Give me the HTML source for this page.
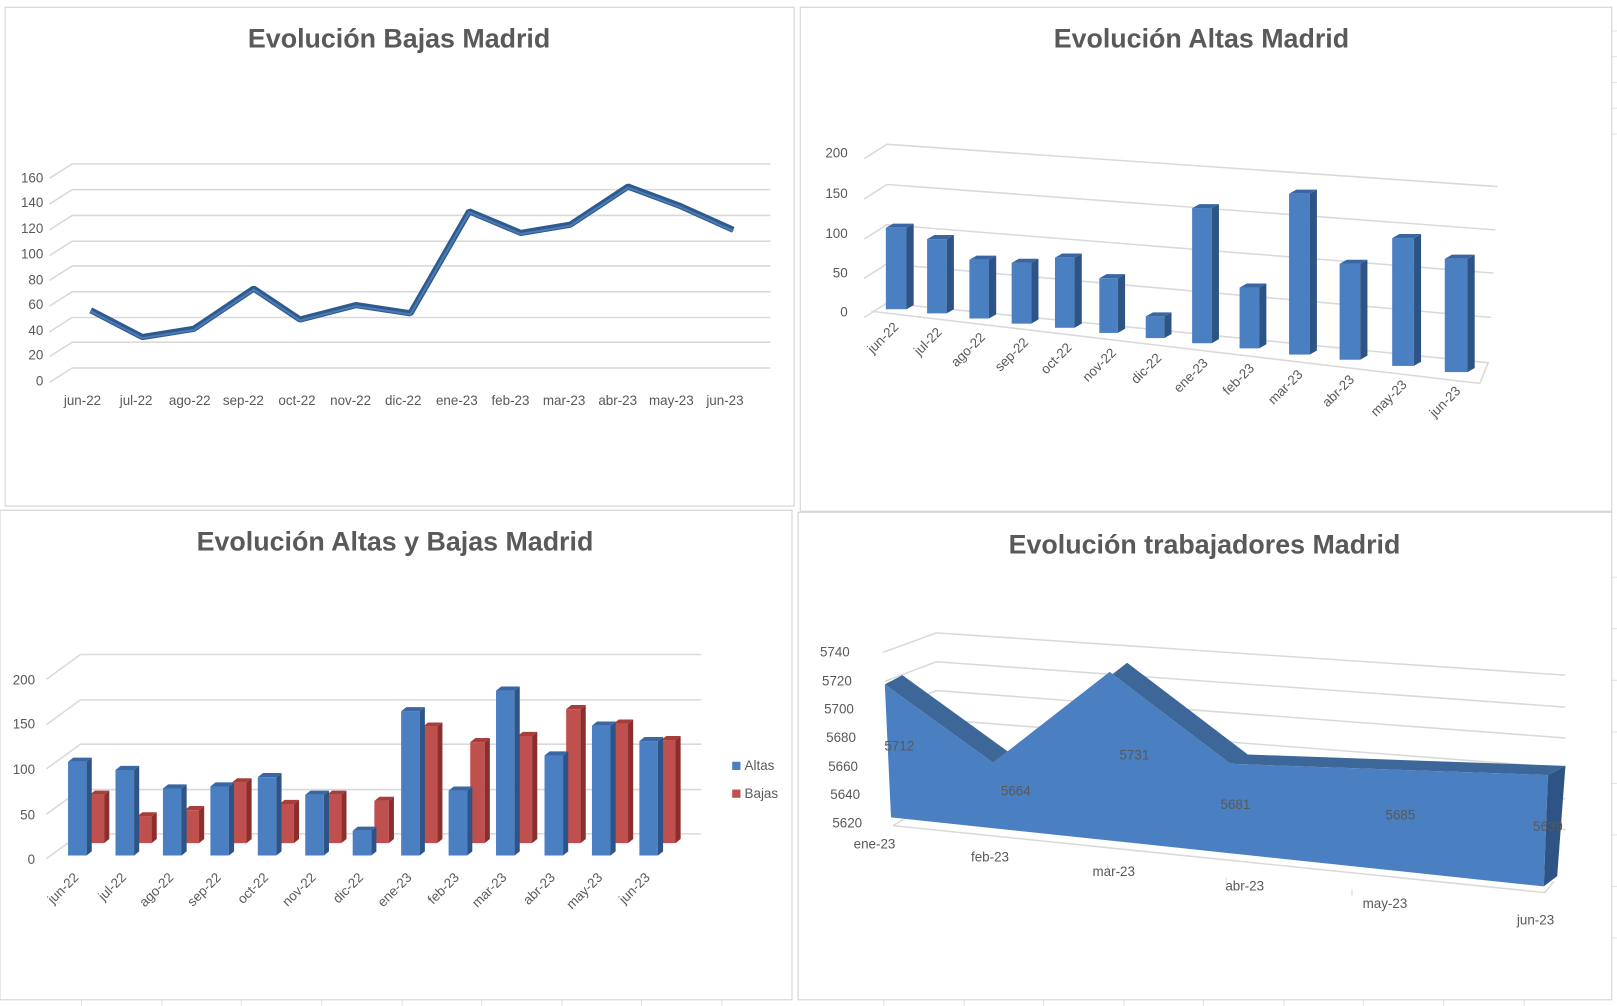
<!DOCTYPE html>
<html><head><meta charset="utf-8"><style>
html,body{margin:0;padding:0;background:#fff;}
svg{display:block;}
text{font-family:"Liberation Sans",sans-serif;fill:#595959;}
.t{font-size:26px;font-weight:bold;text-anchor:middle;}
.a{font-size:13px;}
.g{stroke:#d9d9d9;stroke-width:1.5;fill:none;}
</style></head><body>
<svg width="1617" height="1006" viewBox="0 0 1568 976" preserveAspectRatio="none" xmlns="http://www.w3.org/2000/svg">
<g stroke="#e3e3e3" stroke-width="1">
<line x1="79" y1="970" x2="79" y2="976"/><line x1="157" y1="970" x2="157" y2="976"/><line x1="234" y1="970" x2="234" y2="976"/><line x1="312" y1="970" x2="312" y2="976"/><line x1="390" y1="970" x2="390" y2="976"/><line x1="467" y1="970" x2="467" y2="976"/><line x1="545" y1="970" x2="545" y2="976"/><line x1="622" y1="970" x2="622" y2="976"/><line x1="700" y1="970" x2="700" y2="976"/><line x1="857" y1="970" x2="857" y2="976"/><line x1="935" y1="970" x2="935" y2="976"/><line x1="1012" y1="970" x2="1012" y2="976"/><line x1="1090" y1="970" x2="1090" y2="976"/><line x1="1167" y1="970" x2="1167" y2="976"/><line x1="1245" y1="970" x2="1245" y2="976"/><line x1="1322" y1="970" x2="1322" y2="976"/><line x1="1400" y1="970" x2="1400" y2="976"/><line x1="1478" y1="970" x2="1478" y2="976"/>
<line x1="1563" y1="30" x2="1568" y2="30"/><line x1="1563" y1="55" x2="1568" y2="55"/><line x1="1563" y1="80" x2="1568" y2="80"/><line x1="1563" y1="105" x2="1568" y2="105"/><line x1="1563" y1="130" x2="1568" y2="130"/><line x1="1563" y1="560" x2="1568" y2="560"/><line x1="1563" y1="610" x2="1568" y2="610"/><line x1="1563" y1="660" x2="1568" y2="660"/><line x1="1563" y1="710" x2="1568" y2="710"/><line x1="1563" y1="760" x2="1568" y2="760"/><line x1="1563" y1="810" x2="1568" y2="810"/><line x1="1563" y1="860" x2="1568" y2="860"/><line x1="1563" y1="910" x2="1568" y2="910"/>
</g>
<g fill="#fff" stroke="#d0d0d0" stroke-width="1">
<rect x="5" y="7" width="765" height="484"/>
<rect x="776" y="7" width="787" height="489"/>
<rect x="0" y="495" width="768" height="475"/>
<rect x="774" y="497" width="789" height="473"/>
</g>

<!-- Chart 1 -->
<text class="t" x="387" y="46">Evolución Bajas Madrid</text>
<g class="g">
<polyline points="48,371 70,357 747,357"/><polyline points="48,346 70,332 747,332"/><polyline points="48,322 70,308 747,308"/><polyline points="48,297 70,283 747,283"/><polyline points="48,272 70,258 747,258"/><polyline points="48,248 70,234 747,234"/><polyline points="48,223 70,209 747,209"/><polyline points="48,198 70,184 747,184"/><polyline points="48,173 70,159 747,159"/>
</g>
<g class="a" text-anchor="end">
<text x="42" y="374">0</text><text x="42" y="349">20</text><text x="42" y="325">40</text><text x="42" y="300">60</text><text x="42" y="276">80</text><text x="42" y="251">100</text><text x="42" y="226">120</text><text x="42" y="201">140</text><text x="42" y="177">160</text>
</g>
<g class="a" text-anchor="middle">
<text x="80" y="393">jun-22</text><text x="132" y="393">jul-22</text><text x="184" y="393">ago-22</text><text x="236" y="393">sep-22</text><text x="288" y="393">oct-22</text><text x="340" y="393">nov-22</text><text x="391" y="393">dic-22</text><text x="443" y="393">ene-23</text><text x="495" y="393">feb-23</text><text x="547" y="393">mar-23</text><text x="599" y="393">abr-23</text><text x="651" y="393">may-23</text><text x="703" y="393">jun-23</text>
</g>
<polyline points="88,301 138,327 188,319 246,280 291,310 345,296 398,304 455,205 505,226 553,218 609,181 660,200 711,223" fill="none" stroke="#2f5a8c" stroke-width="6" stroke-linejoin="bevel"/>
<polyline points="88,302 138,328 188,320 246,281 291,311 345,297 398,305 455,206 505,227 553,219 609,182 660,201 711,224" fill="none" stroke="#4a7ab8" stroke-width="2"/>

<!-- Chart 2 -->
<text class="t" x="1165" y="46">Evolución  Altas Madrid</text>
<g class="g">
<polyline points="838,154 860,140 1452,181"/><polyline points="838,193 860,179 1450,223"/><polyline points="838,232 860,218 1448,265"/><polyline points="838,270 860,256 1446,308"/><polyline points="838,308 860,294 1444,352"/>
<polyline points="845,302 1435,372 1443,352"/>
</g>
<g class="a" text-anchor="end">
<text x="822" y="153">200</text><text x="822" y="192">150</text><text x="822" y="231">100</text><text x="822" y="269">50</text><text x="822" y="307">0</text>
</g>
<g>
<g fill="#4a7fc1"><rect x="859" y="221" width="20" height="79"/><rect x="899" y="232" width="19" height="72"/><rect x="940" y="252" width="19" height="57"/><rect x="981" y="255" width="19" height="59"/><rect x="1023" y="250" width="19" height="68"/><rect x="1066" y="270" width="18" height="53"/><rect x="1111" y="307" width="18" height="21"/><rect x="1156" y="202" width="19" height="131"/><rect x="1202" y="279" width="19" height="59"/><rect x="1250" y="188" width="20" height="156"/><rect x="1299" y="256" width="20" height="93"/><rect x="1350" y="231" width="21" height="124"/><rect x="1401" y="251" width="22" height="110"/></g>
<g fill="#2e5486"><polygon points="879,221 886,217 886,296 879,300"/><polygon points="918,232 925,228 925,300 918,304"/><polygon points="959,252 966,248 966,305 959,309"/><polygon points="1000,255 1007,251 1007,310 1000,314"/><polygon points="1042,250 1049,246 1049,314 1042,318"/><polygon points="1084,270 1091,266 1091,319 1084,323"/><polygon points="1129,307 1136,303 1136,324 1129,328"/><polygon points="1175,202 1182,198 1182,329 1175,333"/><polygon points="1221,279 1228,275 1228,334 1221,338"/><polygon points="1270,188 1277,184 1277,340 1270,344"/><polygon points="1319,256 1326,252 1326,345 1319,349"/><polygon points="1371,231 1378,227 1378,351 1371,355"/><polygon points="1423,251 1430,247 1430,357 1423,361"/></g>
<g fill="#3a67a3"><polygon points="859,221 866,217 886,217 879,221"/><polygon points="899,232 906,228 925,228 918,232"/><polygon points="940,252 947,248 966,248 959,252"/><polygon points="981,255 988,251 1007,251 1000,255"/><polygon points="1023,250 1030,246 1049,246 1042,250"/><polygon points="1066,270 1073,266 1091,266 1084,270"/><polygon points="1111,307 1118,303 1136,303 1129,307"/><polygon points="1156,202 1163,198 1182,198 1175,202"/><polygon points="1202,279 1209,275 1228,275 1221,279"/><polygon points="1250,188 1257,184 1277,184 1270,188"/><polygon points="1299,256 1306,252 1326,252 1319,256"/><polygon points="1350,231 1357,227 1378,227 1371,231"/><polygon points="1401,251 1408,247 1430,247 1423,251"/></g>
</g>
<g class="a" text-anchor="end">
<text transform="translate(872,318) rotate(-45)">jun-22</text><text transform="translate(914,323) rotate(-45)">jul-22</text><text transform="translate(956,328) rotate(-45)">ago-22</text><text transform="translate(998,333) rotate(-45)">sep-22</text><text transform="translate(1040,338) rotate(-45)">oct-22</text><text transform="translate(1083,343) rotate(-45)">nov-22</text><text transform="translate(1127,348) rotate(-45)">dic-22</text><text transform="translate(1172,353) rotate(-45)">ene-23</text><text transform="translate(1217,358) rotate(-45)">feb-23</text><text transform="translate(1264,364) rotate(-45)">mar-23</text><text transform="translate(1314,369) rotate(-45)">abr-23</text><text transform="translate(1365,374) rotate(-45)">may-23</text><text transform="translate(1417,380) rotate(-45)">jun-23</text>
</g>

<!-- Chart 3 -->
<text class="t" x="383" y="534">Evolución Altas y Bajas Madrid</text>
<g class="g">
<polyline points="45,833 78,809 680,809"/><polyline points="45,790 78,766 680,766"/><polyline points="45,746 78,722 680,722"/><polyline points="45,703 78,679 680,679"/><polyline points="45,659 78,635 680,635"/>
</g>
<g class="a" text-anchor="end">
<text x="34" y="838">0</text><text x="34" y="795">50</text><text x="34" y="751">100</text><text x="34" y="707">150</text><text x="34" y="664">200</text>
</g>
<g>
<g fill="#c0504d">
<rect x="87" y="771" width="14" height="47"/><rect x="133" y="792" width="14" height="26"/><rect x="179" y="786" width="14" height="32"/><rect x="225" y="759" width="14" height="59"/><rect x="271" y="780" width="14" height="38"/><rect x="317" y="771" width="14" height="47"/><rect x="363" y="777" width="14" height="41"/><rect x="410" y="705" width="14" height="113"/><rect x="456" y="720" width="14" height="98"/><rect x="502" y="714" width="14" height="104"/><rect x="549" y="688" width="14" height="130"/><rect x="595" y="702" width="14" height="116"/><rect x="641" y="718" width="14" height="100"/>
</g>
<g fill="#8c2e2c">
<polygon points="101,771 106,767 106,814 101,818"/><polygon points="147,792 152,788 152,814 147,818"/><polygon points="193,786 198,782 198,814 193,818"/><polygon points="239,759 244,755 244,814 239,818"/><polygon points="285,780 290,776 290,814 285,818"/><polygon points="331,771 336,767 336,814 331,818"/><polygon points="377,777 382,773 382,814 377,818"/><polygon points="424,705 429,701 429,814 424,818"/><polygon points="470,720 475,716 475,814 470,818"/><polygon points="516,714 521,710 521,814 516,818"/><polygon points="563,688 568,684 568,814 563,818"/><polygon points="609,702 614,698 614,814 609,818"/><polygon points="655,718 660,714 660,814 655,818"/>
</g>
<g fill="#a83e3b">
<polygon points="87,771 92,767 106,767 101,771"/><polygon points="133,792 138,788 152,788 147,792"/><polygon points="179,786 184,782 198,782 193,786"/><polygon points="225,759 230,755 244,755 239,759"/><polygon points="271,780 276,776 290,776 285,780"/><polygon points="317,771 322,767 336,767 331,771"/><polygon points="363,777 368,773 382,773 377,777"/><polygon points="410,705 415,701 429,701 424,705"/><polygon points="456,720 461,716 475,716 470,720"/><polygon points="502,714 507,710 521,710 516,714"/><polygon points="549,688 554,684 568,684 563,688"/><polygon points="595,702 600,698 614,698 609,702"/><polygon points="641,718 646,714 660,714 655,718"/>
</g>
</g>
<g>
<g fill="#4a7fc1">
<rect x="66" y="739" width="18" height="91"/><rect x="112" y="747" width="18" height="83"/><rect x="158" y="765" width="18" height="65"/><rect x="204" y="763" width="18" height="67"/><rect x="250" y="754" width="18" height="76"/><rect x="296" y="771" width="18" height="59"/><rect x="342" y="806" width="18" height="24"/><rect x="389" y="690" width="18" height="140"/><rect x="435" y="767" width="18" height="63"/><rect x="481" y="670" width="18" height="160"/><rect x="528" y="733" width="18" height="97"/><rect x="574" y="704" width="18" height="126"/><rect x="620" y="719" width="18" height="111"/>
</g>
<g fill="#2e5486">
<polygon points="84,739 89,735 89,826 84,830"/><polygon points="130,747 135,743 135,826 130,830"/><polygon points="176,765 181,761 181,826 176,830"/><polygon points="222,763 227,759 227,826 222,830"/><polygon points="268,754 273,750 273,826 268,830"/><polygon points="314,771 319,767 319,826 314,830"/><polygon points="360,806 365,802 365,826 360,830"/><polygon points="407,690 412,686 412,826 407,830"/><polygon points="453,767 458,763 458,826 453,830"/><polygon points="499,670 504,666 504,826 499,830"/><polygon points="546,733 551,729 551,826 546,830"/><polygon points="592,704 597,700 597,826 592,830"/><polygon points="638,719 643,715 643,826 638,830"/>
</g>
<g fill="#3a67a3">
<polygon points="66,739 71,735 89,735 84,739"/><polygon points="112,747 117,743 135,743 130,747"/><polygon points="158,765 163,761 181,761 176,765"/><polygon points="204,763 209,759 227,759 222,763"/><polygon points="250,754 255,750 273,750 268,754"/><polygon points="296,771 301,767 319,767 314,771"/><polygon points="342,806 347,802 365,802 360,806"/><polygon points="389,690 394,686 412,686 407,690"/><polygon points="435,767 440,763 458,763 453,767"/><polygon points="481,670 486,666 504,666 499,670"/><polygon points="528,733 533,729 551,729 546,733"/><polygon points="574,704 579,700 597,700 592,704"/><polygon points="620,719 625,715 643,715 638,719"/>
</g>
</g>
<g class="a" text-anchor="end">
<text transform="translate(77,852) rotate(-45)">jun-22</text><text transform="translate(123,852) rotate(-45)">jul-22</text><text transform="translate(169,852) rotate(-45)">ago-22</text><text transform="translate(215,852) rotate(-45)">sep-22</text><text transform="translate(261,852) rotate(-45)">oct-22</text><text transform="translate(307,852) rotate(-45)">nov-22</text><text transform="translate(353,852) rotate(-45)">dic-22</text><text transform="translate(400,852) rotate(-45)">ene-23</text><text transform="translate(446,852) rotate(-45)">feb-23</text><text transform="translate(492,852) rotate(-45)">mar-23</text><text transform="translate(539,852) rotate(-45)">abr-23</text><text transform="translate(585,852) rotate(-45)">may-23</text><text transform="translate(631,852) rotate(-45)">jun-23</text>
</g>
<rect x="710" y="739" width="8" height="8" fill="#4a7fc1"/><text class="a" x="722" y="747">Altas</text>
<rect x="710" y="766" width="8" height="8" fill="#c0504d"/><text class="a" x="722" y="774">Bajas</text>

<!-- Chart 4 -->
<text class="t" x="1168" y="537">Evolución trabajadores Madrid</text>
<g class="g">
<polyline points="856,633 908,614 1518,655"/><polyline points="858,661 908,642 1518,686"/><polyline points="860,689 908,670 1518,716"/><polyline points="862,717 908,698 1518,745"/><polyline points="864,745 908,726 1518,775"/><polyline points="866,773 908,754 1518,805"/><polyline points="866,801 876,795"/>
<polyline points="866,801 1498,866 1507,855"/>
</g>
<g stroke="#d9d9d9"><line x1="966" y1="832" x2="966" y2="826"/><line x1="1074" y1="845" x2="1074" y2="839"/><line x1="1189" y1="857" x2="1189" y2="851"/><line x1="1311" y1="869" x2="1311" y2="863"/></g>
<g class="a" text-anchor="end">
<text x="824" y="637">5740</text><text x="826" y="665">5720</text><text x="828" y="692">5700</text><text x="830" y="720">5680</text><text x="832" y="748">5660</text><text x="834" y="775">5640</text><text x="836" y="803">5620</text>
</g>
<!-- top face strip -->
<polygon points="858,664 963,740 1076,652 1193,741 1501,752 1518,743 1210,732 1093,643 980,731 875,655" fill="#3d6699"/>
<polygon points="1501,752 1518,743 1510,850 1497,860" fill="#2e5486"/>
<polygon points="858,664 963,740 1076,652 1193,741 1501,752 1497,860 864,793" fill="#4a7fc1"/>
<g class="a" text-anchor="middle" fill="#404040">
<text x="872" y="728">5712</text><text x="985" y="772">5664</text><text x="1100" y="737">5731</text><text x="1198" y="785">5681</text><text x="1358" y="795">5685</text><text x="1501" y="806">5639</text>
</g>
<g class="a" text-anchor="middle">
<text x="848" y="823">ene-23</text><text x="960" y="836">feb-23</text><text x="1080" y="850">mar-23</text><text x="1207" y="864">abr-23</text><text x="1343" y="881">may-23</text><text x="1489" y="897">jun-23</text>
</g>
</svg>
</body></html>
